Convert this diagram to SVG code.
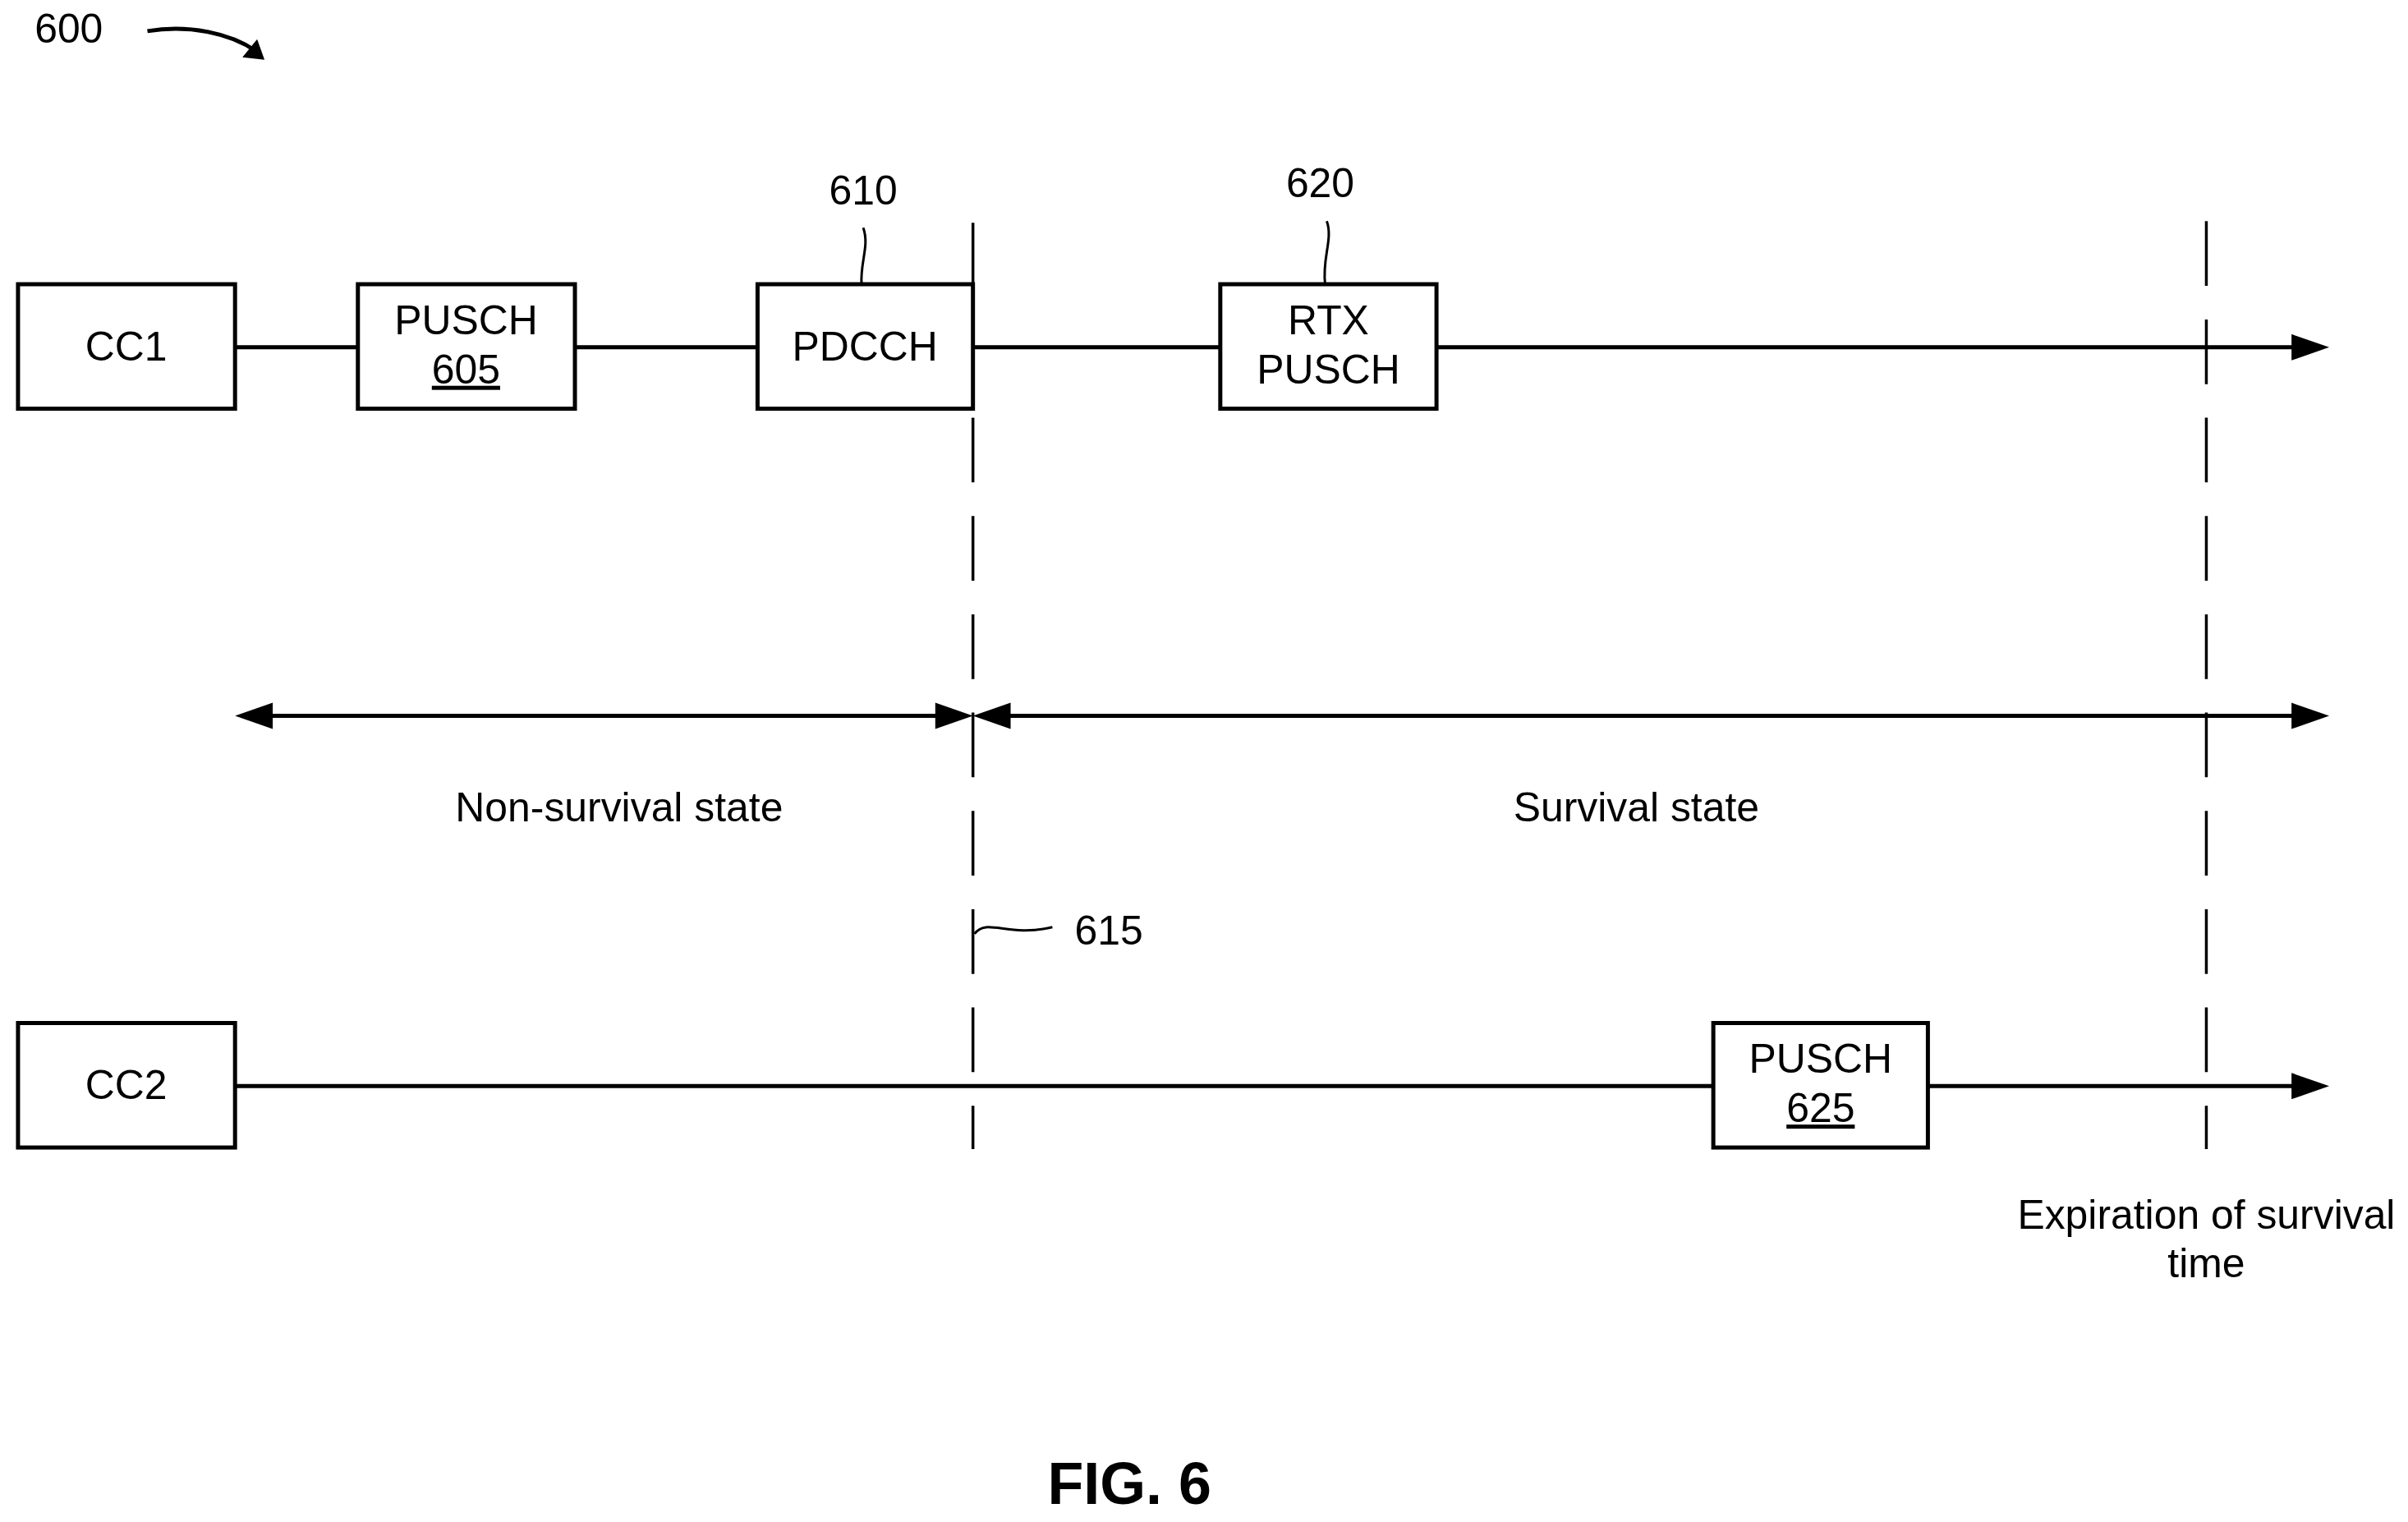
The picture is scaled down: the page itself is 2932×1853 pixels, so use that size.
<svg xmlns="http://www.w3.org/2000/svg" width="2932" height="1853" viewBox="0 0 2932 1853">
<style>
text{font-family:"Liberation Sans",Arial,sans-serif;font-size:50px;fill:#000;text-anchor:middle}
.b{fill:#fff;stroke:#000;stroke-width:5}
.l{stroke:#000;stroke-width:5;fill:none}
.d{stroke:#000;stroke-width:3.5;fill:none;stroke-dasharray:79 41}
.t{stroke:#000;stroke-width:3;fill:none}
</style>
<rect width="2932" height="1853" fill="#fff"/>
<g transform="scale(0.9972)">
<text x="84" y="52">600</text>
<path class="l" d="M180,38 C230,30 280,40 312,62" />
<path d="M296,70 L323,73 L314,48 z" fill="#000"/>
<g id="connectors">
<line class="l" x1="287" y1="424" x2="2800" y2="424"/>
<path d="M2798,408 L2844,424 L2798,440 z" fill="#000"/>
<line class="l" x1="287" y1="1326" x2="2800" y2="1326"/>
<path d="M2798,1310 L2844,1326 L2798,1342 z" fill="#000"/>
<line class="l" x1="330" y1="874" x2="1148" y2="874"/>
<path d="M287,874 L333,858 L333,890 z M1188,874 L1142,858 L1142,890 z" fill="#000"/>
<line class="l" x1="1228" y1="874" x2="2800" y2="874"/>
<path d="M1188,874 L1234,858 L1234,890 z M2844,874 L2798,858 L2798,890 z" fill="#000"/>
<line class="l" x1="1188" y1="272" x2="1188" y2="499" style="stroke-width:3.5"/>
<line class="d" x1="1188" y1="510" x2="1188" y2="1403"/>
<line class="d" x1="2694" y1="270" x2="2694" y2="1403"/>
<path class="t" d="M1054,278 C1062,300 1050,320 1052,347"/>
<path class="t" d="M1620,270 C1628,292 1614,315 1618,347"/>
<path class="t" d="M1190,1140 C1205,1120 1230,1145 1285,1132"/>
</g>
<g id="cc1"><rect class="b" x="22" y="347" width="265" height="152"/><text x="154" y="440">CC1</text></g>
<g id="pusch605"><rect class="b" x="437" y="347" width="265" height="152"/><text x="569" y="408">PUSCH</text><text x="569" y="468" text-decoration="underline">605</text></g>
<g id="pdcch"><rect class="b" x="925" y="347" width="263" height="152"/><text x="1056" y="440">PDCCH</text></g>
<g id="rtx"><rect class="b" x="1490" y="347" width="264" height="152"/><text x="1622" y="408">RTX</text><text x="1622" y="468">PUSCH</text></g>
<g id="cc2"><rect class="b" x="22" y="1249" width="265" height="152"/><text x="154" y="1342">CC2</text></g>
<g id="pusch625"><rect class="b" x="2092" y="1249" width="262" height="152"/><text x="2223" y="1310">PUSCH</text><text x="2223" y="1370" text-decoration="underline">625</text></g>
<text x="1054" y="250">610</text>
<text x="1612" y="241">620</text>
<text x="1354" y="1153">615</text>
<text x="756" y="1003">Non-survival state</text>
<text x="1998" y="1003">Survival state</text>
<text x="2694" y="1500">Expiration of survival</text>
<text x="2694" y="1559">time</text>
<text x="1379" y="1836" style="font-size:72px;font-weight:bold">FIG. 6</text>
</g>
</svg>
